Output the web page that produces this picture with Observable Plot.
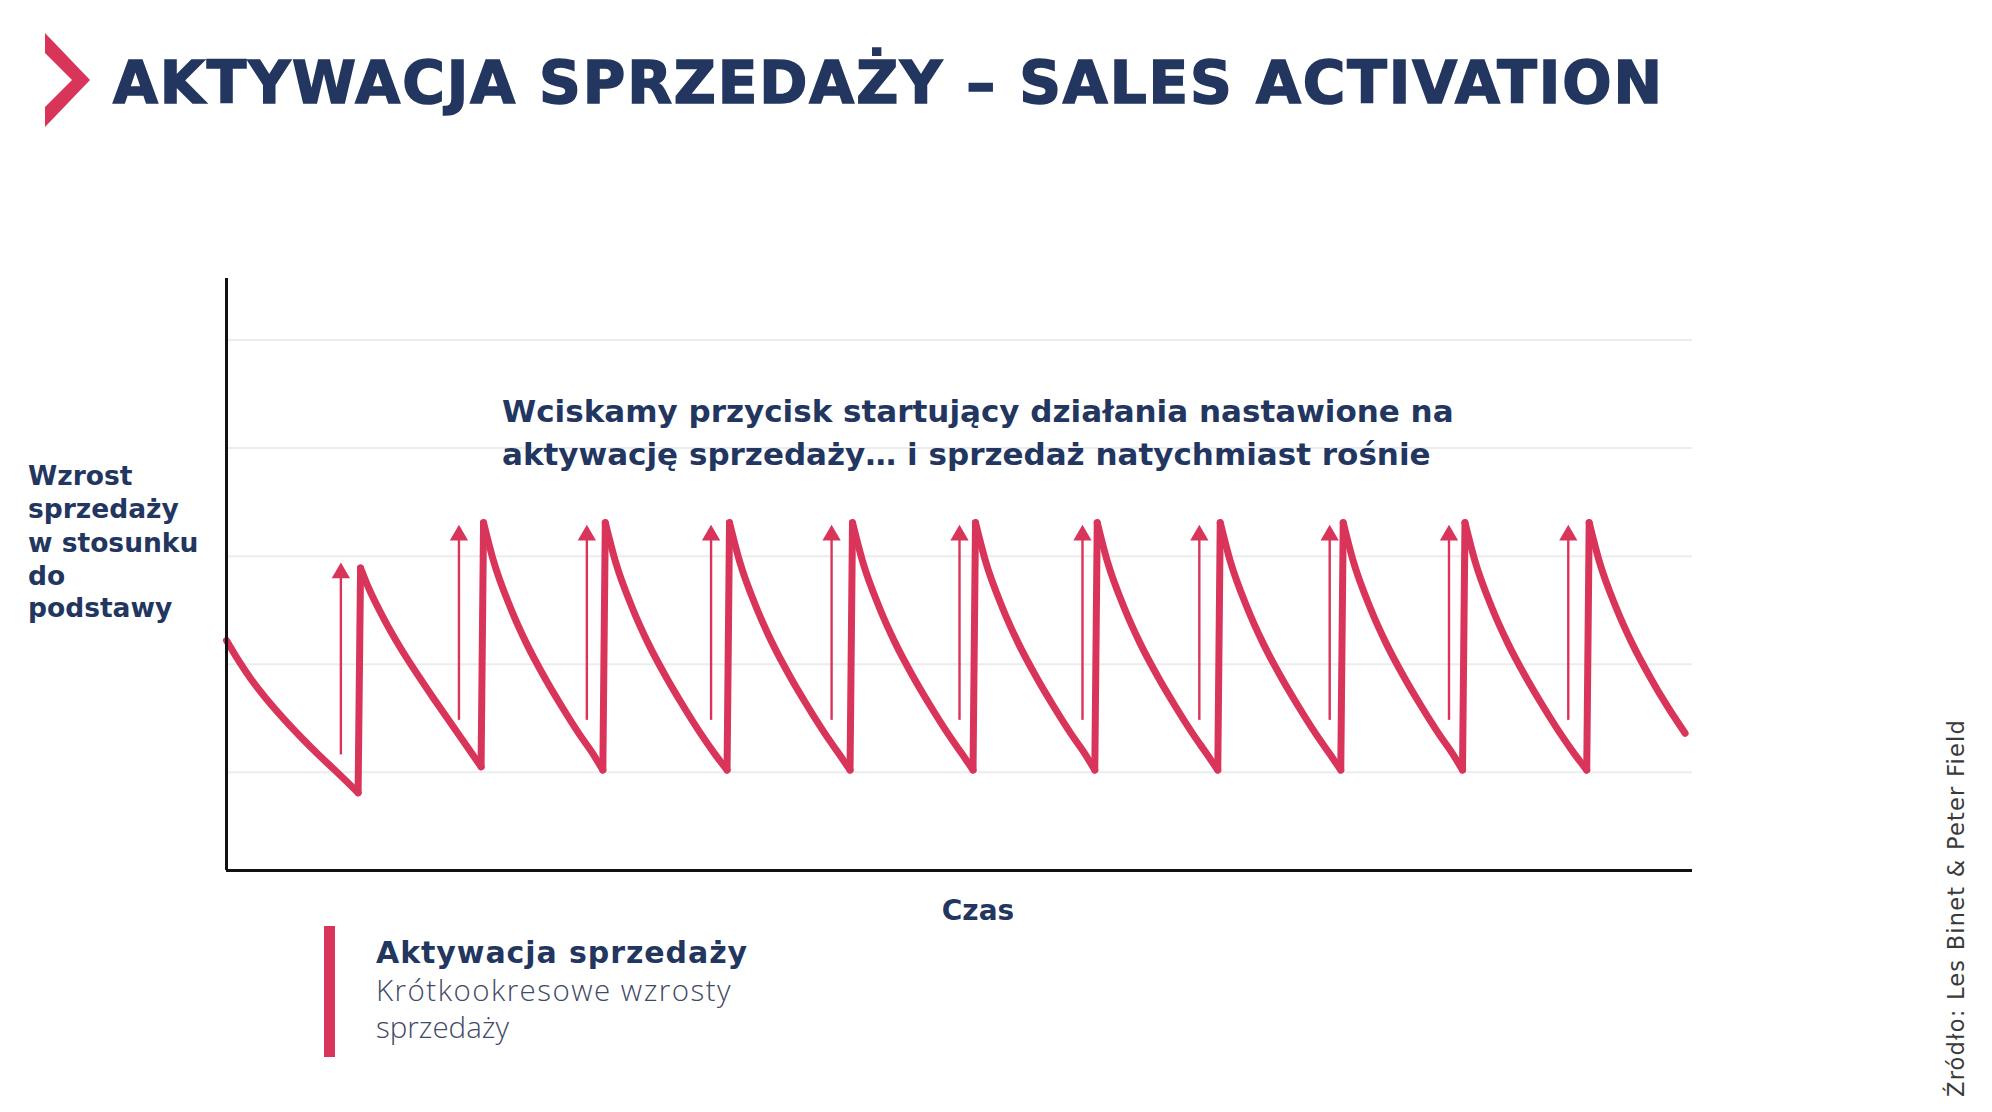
<!DOCTYPE html>
<html lang="pl">
<head>
<meta charset="utf-8">
<script src="https://cdn.jsdelivr.net/npm/d3@7"></script>
<script src="https://cdn.jsdelivr.net/npm/@observablehq/plot@0.6"></script>
<style>
  html, body { margin: 0; padding: 0; background: #ffffff; }
  #page { position: relative; width: 1992px; height: 1112px; overflow: hidden; background: #fff; }
  .t { position: absolute; white-space: nowrap; line-height: 1.2; }
  .bold { font-family: "DejaVu Sans", "Noto Sans", sans-serif; font-weight: 700; color: #22365f; }
  #chart { position: absolute; left: 200px; top: 250px; }
</style>
</head>
<body>
<div id="page">
  <svg id="chev" width="100" height="140" style="position:absolute;left:0;top:0">
    <polygon points="45,33 90,80 45,127 45,107 72,80 45,53" fill="#d9345a"></polygon>
  </svg>
  <div id="chart"></div>
  <div id="legendBar" style="position:absolute;left:324px;top:926px;width:11px;height:131px;background:#d9345a"></div>
</div>
<script>
// ---------- data ----------
// time axis (arbitrary units), y = sales uplift relative to base (gridlines at 1..5)
const leadT = [0, 1.0, 2.0, 3.3, 4.6, 6.0, 7.4, 8.8];
const leadV = [2.22, 2.03, 1.86, 1.67, 1.50, 1.33, 1.17, 1.02];

const peakT = [10.9, 20.9, 30.8, 40.9, 50.9, 60.9, 70.8, 80.8, 90.8, 100.7, 110.8];
const peakV = [2.89, 3.31, 3.31, 3.31, 3.31, 3.31, 3.31, 3.31, 3.31, 3.31, 3.31];
const troughV = [0.81, 1.05, 1.02, 1.02, 1.02, 1.02, 1.02, 1.02, 1.02, 1.02, 1.02];

// first (smaller) burst decay, offsets from its peak
const firstDt = [0.6, 1.9, 3.25, 4.6, 5.9, 7.3, 8.7];
const firstV = [2.72, 2.42, 2.15, 1.91, 1.69, 1.46, 1.23];

// decay after each full burst, offsets from the peak
const toothDt = [0.8, 2.2, 3.5, 5.0, 6.3, 7.8, 8.9];
const toothV = [2.96, 2.52, 2.19, 1.87, 1.62, 1.35, 1.17];

const endT = 118.6;
const endV = 1.36;

// activation arrows
const arrowT = [9.3, 18.9, 29.3, 39.4, 49.2, 59.6, 69.6, 79.1, 89.7, 99.4, 109.1];
const arrowBase = [1.16, 1.48, 1.48, 1.48, 1.48, 1.48, 1.48, 1.48, 1.48, 1.48, 1.48];
const arrowTip = [2.94, 3.29, 3.29, 3.29, 3.29, 3.29, 3.29, 3.29, 3.29, 3.29, 3.29];

const gridValues = [1, 2, 3, 4, 5];

const titleText = "AKTYWACJA SPRZEDAŻY – SALES ACTIVATION";
const annotationLines = [
  "Wciskamy przycisk startujący działania nastawione na",
  "aktywację sprzedaży… i sprzedaż natychmiast rośnie"
];
const yLabelLines = ["Wzrost", "sprzedaży", "w stosunku", "do", "podstawy"];
const xLabel = "Czas";
const legendTitle = "Aktywacja sprzedaży";
const legendLines = ["Krótkookresowe wzrosty", "sprzedaży"];
const sourceText = "Źródło: Les Binet & Peter Field";

// ---------- build the sawtooth: decays (smooth) + vertical jumps ----------
const decays = [];
const jumps = [];
leadT.forEach((t, i) => decays.push({seg: 0, t, v: leadV[i]}));
peakT.forEach((p, i) => {
  const trough = {t: p - 0.2, v: troughV[i]};
  decays.push({seg: i, ...trough});                 // end of previous decay
  jumps.push({seg: i, ...trough}, {seg: i, t: p, v: peakV[i]});
  const s = i + 1;
  decays.push({seg: s, t: p, v: peakV[i]});
  const dts = i === 0 ? firstDt : toothDt;
  const vs = i === 0 ? firstV : toothV;
  dts.forEach((d, j) => { if (p + d < endT) decays.push({seg: s, t: p + d, v: vs[j]}); });
});
decays.push({seg: peakT.length, t: endT, v: endV});

const arrows = arrowT.map((t, i) => ({t, base: arrowBase[i], tip: arrowTip[i]}));

const RED = "#d9345a";
const NAVY = "#22365f";
const yMin = 0.09, yMax = 5.57;

const chart = Plot.plot({
  width: 1520,
  height: 650,
  marginLeft: 26,
  marginRight: 28,
  marginTop: 28,
  marginBottom: 30,
  style: {fontFamily: "DejaVu Sans, sans-serif", background: "transparent", overflow: "visible"},
  x: {domain: [0, 119.2], axis: null},
  y: {domain: [yMin, yMax], axis: null},
  marks: [
    Plot.ruleY(gridValues, {stroke: "#ececec", strokeWidth: 2}),
    Plot.text([annotationLines.join("\n")], {
      x: 22.4, y: 4.52, text: d => d, textAnchor: "start", lineAnchor: "top",
      fontSize: 31, fontWeight: 700, fill: NAVY, lineHeight: 1.37,
      fontFamily: "DejaVu Sans, sans-serif"
    }),
    Plot.ruleX(arrows, {x: "t", y1: "base", y2: d => d.tip - 0.1, stroke: RED, strokeWidth: 2.4}),
    Plot.dot(arrows, {x: "t", y: "tip", symbol: "triangle", r: 6.8, fill: RED, stroke: "none", dy: 10.4}),
    Plot.line(decays, {x: "t", y: "v", z: "seg", curve: "monotone-x", stroke: RED, strokeWidth: 7, strokeLinejoin: "round", strokeLinecap: "round"}),
    Plot.line(jumps, {x: "t", y: "v", z: "seg", stroke: RED, strokeWidth: 7, strokeLinejoin: "round", strokeLinecap: "round"}),
    Plot.ruleX([0], {stroke: "#111", strokeWidth: 3}),
    Plot.ruleY([yMin], {stroke: "#111", strokeWidth: 3})
  ]
});
document.getElementById("chart").appendChild(chart);

// ---------- surrounding text ----------
const page = document.getElementById("page");
function makeText(txt, cls, style) {
  const el = document.createElement("div");
  el.className = "t " + cls;
  el.textContent = txt;
  Object.assign(el.style, style || {});
  page.appendChild(el);
  return el;
}
function baselineOffset(el) {
  const probe = document.createElement("span");
  probe.style.display = "inline-block";
  probe.style.width = "0px";
  probe.style.height = "0px";
  el.appendChild(probe);
  const off = probe.getBoundingClientRect().top - el.getBoundingClientRect().top;
  el.removeChild(probe);
  return off;
}
function place(el, x, baseline, anchor) {
  el.style.left = "0px"; el.style.top = "0px";
  const off = baselineOffset(el);
  const w = el.getBoundingClientRect().width;
  const left = anchor === "middle" ? x - w / 2 : x;
  el.style.left = left + "px";
  el.style.top = (baseline - off) + "px";
}
function fitWidth(el, target) {
  el.style.letterSpacing = "0px";
  const w = el.getBoundingClientRect().width;
  const n = el.textContent.length;
  el.style.letterSpacing = ((target - w) / n) + "px";
}

const title = makeText(titleText, "bold", {fontSize: "58px", color: NAVY, webkitTextStroke: "1.6px " + NAVY});
fitWidth(title, 1551);
place(title, 113, 103);

yLabelLines.forEach((s, i) => {
  const el = makeText(s, "bold", {fontSize: "26.5px", color: NAVY});
  place(el, 28, [485, 518, 552, 585, 617][i]);
});

const cz = makeText(xLabel, "bold", {fontSize: "28px", color: NAVY});
place(cz, 978, 920, "middle");

const lt = makeText(legendTitle, "bold", {fontSize: "30px", color: NAVY});
fitWidth(lt, 372);
place(lt, 376, 963);

legendLines.forEach((s, i) => {
  const el = makeText(s, "", {fontSize: "29.5px", fontFamily: "'Open Sans', 'Lato', sans-serif", fontWeight: "300", color: "#3f4a66"});
  if (i === 0) fitWidth(el, 356);
  place(el, 376, [1001, 1038][i]);
});

// rotated source note
const src = makeText(sourceText, "", {fontSize: "22.5px", fontFamily: "'DejaVu Sans', sans-serif", fontWeight: "400", color: "#3a3a3a"});
fitWidth(src, 378);
src.style.left = "0px"; src.style.top = "0px";
const srcOff = baselineOffset(src);
src.style.transformOrigin = "0 0";
src.style.transform = "rotate(-90deg)";
src.style.left = (1964 - srcOff) + "px";
src.style.top = "1097px";
</script>
</body>
</html>
